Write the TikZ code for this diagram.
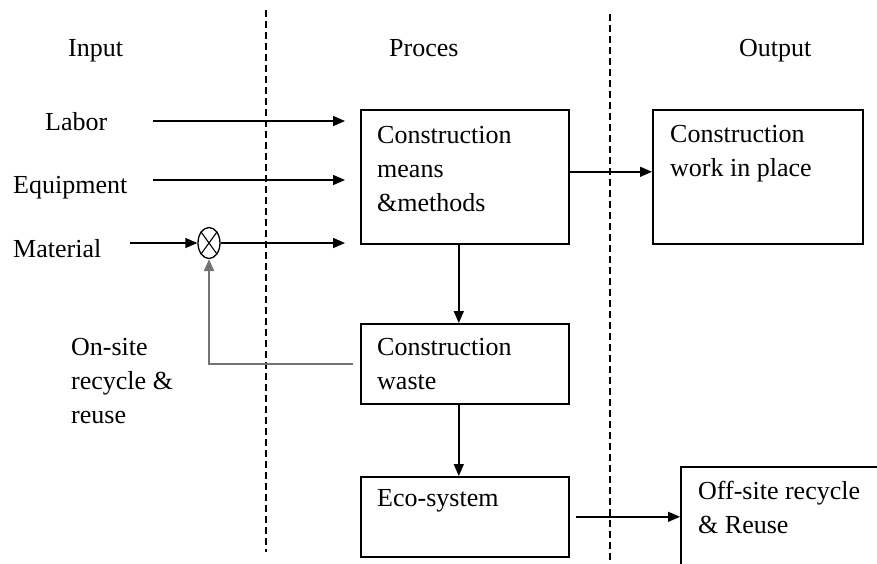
\documentclass[tikz,border=0pt]{standalone}
\usepackage{fontspec}
\setmainfont{Liberation Serif}
\usetikzlibrary{arrows.meta,shapes.geometric}
\begin{document}
\begin{tikzpicture}[x=1pt,y=-1pt,
  txt/.style={font=\fontsize{26}{34}\selectfont, inner sep=0pt, anchor=base west, align=left},
  boxnode/.style={draw, line width=1.6pt, inner sep=0pt, anchor=north west},
  arr/.style={line width=1.5pt, -{Triangle[length=12pt,width=10pt]}},
  sep/.style={line width=1.3pt, dash pattern=on 7pt off 4pt},
  fb/.style={line width=2.4pt, draw=black!55}]
\useasboundingbox (0,0) rectangle (877,563);
\clip (0,0) rectangle (877,563);
\fill[white] (0,0) rectangle (877,563);

% separators
\draw[sep] (266,10) -- (266,552);
\draw[sep] (610,14) -- (610,563);

% headers
\node[txt] (hin) at (68,56) {Input};
\node[txt] (hpr) at (389,56) {Proces};
\node[txt] (hout) at (739,56) {Output};

% boxes
\node[boxnode, minimum width=208pt, minimum height=134pt] (b1) at (360,109) {};
\node[boxnode, minimum width=210pt, minimum height=134pt] (b2) at (652,109) {};
\node[boxnode, minimum width=208pt, minimum height=80pt] (b3) at (360,323) {};
\node[boxnode, minimum width=208pt, minimum height=80pt] (eco) at (360,476) {};
\node[boxnode, minimum width=250pt, minimum height=150pt] (off) at (680,466) {};

% box texts (base anchor = baseline of the last line)
\node[txt] (t1) at (377,211) {Construction\\means\\\&methods};
\node[txt] (t2) at (670,176) {Construction\\work in place};
\node[txt] (t3) at (377,389) {Construction\\waste};
\node[txt] (t4) at (377,506) {Eco-system};
\node[txt] (t5) at (698,533) {Off-site recycle\\\& Reuse};

% input labels
\node[txt] (lab) at (45,130) {Labor};
\node[txt] (equ) at (13,193) {Equipment};
\node[txt] (mat) at (13,257) {Material};
\node[txt] (ons) at (71,423) {On-site\\recycle \&\\reuse};

% mixing junction
\node[draw, ellipse, line width=1.3pt, minimum width=22pt, minimum height=31pt, inner sep=0pt] (mix) at (209,243) {};
\draw[line width=1.1pt] (mix.north east) -- (mix.south west) (mix.north west) -- (mix.south east);

% arrow endpoints
\coordinate (labS) at (153,121);
\coordinate (labE) at (345,121);
\coordinate (equS) at (153,180);
\coordinate (equE) at (345,180);
\coordinate (matS) at (130,243);
\coordinate (matE) at (345,243);

\draw[arr] (labS) -- (labE);
\draw[arr] (equS) -- (equE);
\draw[arr] (matS) -- (mix.west);
\draw[arr] (mix.east) -- (matE);

\draw[arr] ([yshift=5pt]b1.east) -- ([yshift=5pt]b1.east -| b2.west);
\draw[arr] ([xshift=-6pt]b1.south) -- ([xshift=-6pt]b1.south |- b3.north);
\draw[arr] ([xshift=-6pt]b3.south) -- ([xshift=-6pt]b3.south |- eco.north);
\draw[arr] ([xshift=6pt]eco.east) -- (eco.east -| off.west);

% feedback
\draw[fb, -{Triangle[length=12pt,width=10pt]}] ([xshift=-7pt]b3.west) -| (mix.south);
\end{tikzpicture}
\end{document}
